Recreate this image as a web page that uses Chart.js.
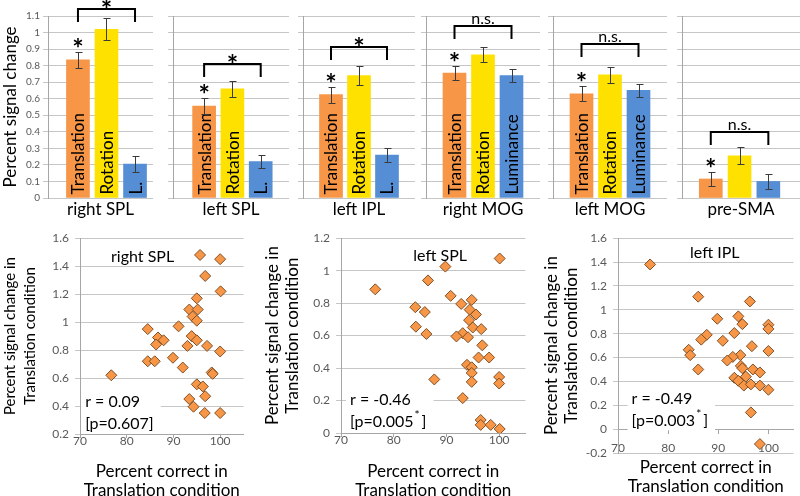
<!DOCTYPE html>
<html>
<head>
<meta charset="utf-8">
<title>Percent signal change by region</title>
<script src="https://cdn.jsdelivr.net/npm/chart.js@4.4.1/dist/chart.umd.min.js"></script>
<style>
  html, body { margin: 0; padding: 0; background: #fff; }
  body { width: 800px; height: 496px; position: relative; overflow: hidden; }
  .panel { position: absolute; }
</style>
</head>
<body>
<script>
// ---- top row: mean percent signal change per region ----
var regions = ['right SPL', 'left SPL', 'left IPL', 'right MOG', 'left MOG', 'pre-SMA'];
var translationMean = [0.835, 0.555, 0.625, 0.755, 0.63, 0.115];
var translationErr  = [0.05, 0.05, 0.048, 0.043, 0.045, 0.045];
var rotationMean    = [1.02, 0.66, 0.74, 0.865, 0.745, 0.255];
var rotationErr     = [0.065, 0.05, 0.055, 0.045, 0.048, 0.052];
var luminanceMean   = [0.205, 0.22, 0.26, 0.74, 0.65, 0.10];
var luminanceErr    = [0.05, 0.04, 0.04, 0.038, 0.04, 0.045];
var barLabels = [
  ['Translation', 'Rotation', 'L.'],
  ['Translation', 'Rotation', 'L.'],
  ['Translation', 'Rotation', 'L.'],
  ['Translation', 'Rotation', 'Luminance'],
  ['Translation', 'Rotation', 'Luminance'],
  ['', '', '']
];
var contrastText  = ['*', '*', '*', 'n.s.', 'n.s.', 'n.s.'];
var contrastLevel = [1.14, 0.81, 0.915, 1.04, 0.93, 0.40];

// ---- bottom row: signal change vs. accuracy, one point per subject ----
var scatterRegions = ['right SPL', 'left SPL', 'left IPL'];
var rightSplAccuracy = [95.7, 100, 96.8, 100.1, 95, 93.4, 95.2, 94.1, 95, 91.1, 84.5, 86.7, 87.9, 86.3, 93.9, 95, 93, 97.2, 100, 89.9, 84.5, 86, 92, 98.2, 98.4, 76.7, 95, 96.3, 96.8, 93.4, 94.3, 96.7, 100];
var rightSplSignal   = [1.48, 1.45, 1.33, 1.22, 1.17, 1.09, 1.09, 1.04, 1.01, 0.97, 0.95, 0.89, 0.87, 0.84, 0.90, 0.87, 0.83, 0.83, 0.79, 0.745, 0.72, 0.72, 0.675, 0.64, 0.63, 0.62, 0.555, 0.54, 0.47, 0.45, 0.395, 0.35, 0.35];
var leftSplAccuracy = [100.1, 89.8, 86.5, 76.5, 90.8, 92.8, 94.8, 84.1, 94.4, 85.9, 95.6, 94.3, 84.2, 95.0, 96.6, 86.2, 93.1, 91.9, 94.1, 96.8, 96.1, 98.1, 93.9, 94.8, 94.8, 87.7, 100, 100, 94.8, 93.1, 96.5, 96.5, 98.4, 100.1];
var leftSplSignal   = [1.075, 1.025, 0.94, 0.885, 0.845, 0.795, 0.82, 0.775, 0.76, 0.745, 0.73, 0.695, 0.655, 0.65, 0.64, 0.61, 0.615, 0.595, 0.59, 0.54, 0.465, 0.465, 0.42, 0.405, 0.37, 0.33, 0.345, 0.305, 0.315, 0.215, 0.08, 0.05, 0.05, 0.025];
var leftIplAccuracy = [76.4, 86.0, 96.3, 89.8, 94.0, 94.8, 100, 100, 87.7, 86.6, 93.2, 90.9, 96.7, 84.1, 84.4, 100, 94.4, 92.9, 91.8, 94.5, 94.8, 86.0, 96.9, 98.3, 95.5, 93.2, 94.0, 95.1, 96.5, 98.3, 100, 96.5, 98.3];
var leftIplSignal   = [1.38, 1.11, 1.07, 0.925, 0.945, 0.88, 0.875, 0.84, 0.79, 0.75, 0.805, 0.74, 0.695, 0.665, 0.62, 0.655, 0.62, 0.605, 0.575, 0.53, 0.51, 0.50, 0.50, 0.475, 0.44, 0.43, 0.405, 0.365, 0.375, 0.365, 0.33, 0.14, -0.125];
var scatterYRange = [[0.2, 1.6], [0, 1.2], [-0.2, 1.6]];
var rValues = ['0.09', '-0.46', '-0.49'];
var pValues = ['0.607', '0.005', '0.003'];
var pSignificant = [false, true, true];

// where the panels sit on the page
var panelAxisX  = [48, 173, 303, 426, 553, 682];
var panelRightX = [153, 289, 415, 540, 667, 800];
var panelXRange = [[-0.05, 3.63], [-0.1, 4], [0, 4], [0, 4], [0, 4], [0, 4.1]];
var scatterLayout = [
  {left: 0,   top: 225, width: 250, height: 275, yAxisW: 80, padRight: 5, titlePad: 6, yTitleSize: 15, xAtZero: false, xTickPad: -4},
  {left: 263, top: 225, width: 269, height: 275, yAxisW: 78, padRight: 5, titlePad: 7, yTitleSize: 17, xAtZero: false, xTickPad: -4},
  {left: 542, top: 225, width: 258, height: 271, yAxisW: 76, padRight: 3, titlePad: 5, yTitleSize: 17, xAtZero: true, xTickPad: 8}
];
var regionNameAt = [[83.4, 1.47], [88.8, 1.09], [89.3, 1.48]];
var statsAt = [[71.1, 0.43], [71.7, 0.205], [72.7, 0.25]];

Chart.defaults.font.family = 'Lato';
Chart.defaults.color = '#000';

function tickText(v) {
  return String(Math.round(v * 10) / 10);
}

function addPanel(left, top, width, height) {
  var div = document.createElement('div');
  div.className = 'panel';
  div.style.left = left + 'px';
  div.style.top = top + 'px';
  div.style.width = width + 'px';
  div.style.height = height + 'px';
  var canvas = document.createElement('canvas');
  div.appendChild(canvas);
  document.body.appendChild(div);
  return canvas;
}

function drawStar(ctx, x, cy, size) {
  ctx.font = 'bold ' + size + 'px Lato';
  ctx.textAlign = 'center';
  ctx.textBaseline = 'alphabetic';
  var m = ctx.measureText('*');
  ctx.fillText('*', x, cy + (m.actualBoundingBoxAscent - m.actualBoundingBoxDescent) / 2);
}

function barMarks(i) {
  return {
    id: 'barMarks',
    afterDatasetsDraw: function(chart) {
      var ctx = chart.ctx, y = chart.scales.y;
      var bars = chart.getDatasetMeta(0).data;
      var means = [translationMean[i], rotationMean[i], luminanceMean[i]];
      var errs = [translationErr[i], rotationErr[i], luminanceErr[i]];
      ctx.save();

      // condition names written up the bars
      ctx.fillStyle = '#000';
      ctx.font = '17px Lato';
      ctx.textAlign = 'left';
      ctx.textBaseline = 'middle';
      bars.forEach(function(bar, k) {
        if (!barLabels[i][k]) return;
        ctx.save();
        ctx.translate(bar.x + 1, bar.base - 3);
        ctx.rotate(-Math.PI / 2);
        ctx.fillText(barLabels[i][k], 0, 0);
        ctx.restore();
      });

      // error bars
      ctx.strokeStyle = '#3a3a3a';
      ctx.lineWidth = 1;
      ctx.beginPath();
      bars.forEach(function(bar, k) {
        var x = Math.round(bar.x) + 0.5;
        var hi = Math.round(y.getPixelForValue(means[k] + errs[k])) + 0.5;
        var lo = Math.round(y.getPixelForValue(means[k] - errs[k])) + 0.5;
        ctx.moveTo(x, hi); ctx.lineTo(x, lo);
        ctx.moveTo(x - 3, hi); ctx.lineTo(x + 4, hi);
        ctx.moveTo(x - 3, lo); ctx.lineTo(x + 4, lo);
      });
      ctx.stroke();

      // translation differs from zero
      ctx.fillStyle = '#000';
      drawStar(ctx, bars[0].x, y.getPixelForValue(means[0] + errs[0]) - 9, 27);

      // translation vs luminance bracket
      var by = Math.round(y.getPixelForValue(contrastLevel[i]));
      var x0 = bars[0].x, x2 = bars[2].x;
      ctx.strokeStyle = '#000';
      ctx.lineWidth = 2;
      ctx.beginPath();
      ctx.moveTo(x0, by + 13); ctx.lineTo(x0, by); ctx.lineTo(x2, by); ctx.lineTo(x2, by + 13);
      ctx.stroke();
      if (contrastText[i] === '*') {
        drawStar(ctx, (x0 + x2) / 2, by - 5, 27);
      } else {
        ctx.font = '16px Lato';
        ctx.textAlign = 'center';
        ctx.textBaseline = 'alphabetic';
        ctx.fillText(contrastText[i], (x0 + x2) / 2, by - 2);
      }
      ctx.restore();
    }
  };
}

function barChart(i) {
  var yw = i === 0 ? 48 : 6;
  var left = panelAxisX[i] - yw;
  var canvas = addPanel(left, 0, panelRightX[i] - left, 222);
  new Chart(canvas, {
    type: 'bar',
    data: {
      datasets: [{
        data: [
          {x: 1, y: translationMean[i]},
          {x: 2, y: rotationMean[i]},
          {x: 3, y: luminanceMean[i]}
        ],
        backgroundColor: ['#F79646', '#FFE100', '#558ED5'],
        barThickness: 23
      }]
    },
    options: {
      responsive: true,
      maintainAspectRatio: false,
      animation: false,
      devicePixelRatio: 1,
      layout: {padding: {top: 16, left: 0, right: 0, bottom: 0}},
      plugins: {legend: {display: false}, tooltip: {enabled: false}},
      scales: {
        x: {
          type: 'linear',
          offset: false,
          min: panelXRange[i][0],
          max: panelXRange[i][1],
          ticks: {display: false, stepSize: 1},
          grid: {display: false, offset: false},
          border: {display: false},
          title: {display: true, text: regions[i], color: '#000', font: {size: 17}, padding: {top: 0, bottom: 2}},
          afterFit: function(s) { s.height = 24; }
        },
        y: {
          min: 0,
          max: 1.1,
          ticks: {display: i === 0, stepSize: 0.1, callback: tickText, color: '#595959', font: {size: 10}, padding: 3},
          grid: {color: '#C6C6C6', tickLength: 5},
          border: {color: '#A6A6A6'},
          title: {display: i === 0, text: 'Percent signal change', color: '#000', font: {size: 17}, padding: 0},
          afterFit: function(s) { s.width = yw; }
        }
      }
    },
    plugins: [barMarks(i)]
  });
}

function scatterNotes(k) {
  return {
    id: 'scatterNotes',
    beforeDatasetsDraw: function(chart) {
      var ctx = chart.ctx, sx = chart.scales.x, sy = chart.scales.y;
      ctx.save();
      ctx.font = '16px Lato';
      ctx.textBaseline = 'middle';
      ctx.textAlign = 'center';
      ctx.fillStyle = '#000';
      ctx.fillText(scatterRegions[k], sx.getPixelForValue(regionNameAt[k][0]), sy.getPixelForValue(regionNameAt[k][1]));

      var x = sx.getPixelForValue(statsAt[k][0]);
      var y1 = sy.getPixelForValue(statsAt[k][1]);
      var y2 = y1 + 22;
      var rLine = 'r = ' + rValues[k];
      var pLine = '[p=' + pValues[k];
      ctx.textAlign = 'left';
      var pw = ctx.measureText(pLine).width;
      var w = Math.max(ctx.measureText(rLine).width, pw + (pSignificant[k] ? 14 : 6));
      ctx.fillStyle = '#fff';
      ctx.fillRect(x - 4, y1 - 11, w + 10, y2 - y1 + 20);
      ctx.fillStyle = '#000';
      ctx.fillText(rLine, x, y1);
      ctx.fillText(pLine, x, y2);
      if (pSignificant[k]) {
        ctx.fillText(']', x + pw + 8, y2);
        ctx.font = '12px Lato';
        ctx.fillText('*', x + pw + 1, y2 - 7);
      } else {
        ctx.fillText(']', x + pw, y2);
      }
      ctx.restore();
    }
  };
}

function scatterChart(k, accuracy, signal) {
  var g = scatterLayout[k];
  var canvas = addPanel(g.left, g.top, g.width, g.height);
  var points = accuracy.map(function(a, j) { return {x: a, y: signal[j]}; });
  new Chart(canvas, {
    type: 'scatter',
    data: {
      datasets: [{
        data: points,
        pointStyle: 'rectRot',
        radius: 5.5,
        backgroundColor: '#F79646',
        borderColor: '#7E5028',
        borderWidth: 1
      }]
    },
    options: {
      responsive: true,
      maintainAspectRatio: false,
      animation: false,
      devicePixelRatio: 1,
      layout: {padding: {top: 13, right: g.padRight, bottom: 0, left: 0}},
      plugins: {
        legend: {display: false},
        tooltip: {enabled: false},
        title: {
          display: true,
          position: 'bottom',
          fullSize: false,
          text: ['Percent correct in', 'Translation condition'],
          color: '#000',
          font: {size: 17, weight: 'normal', lineHeight: 19 / 17},
          padding: {top: g.titlePad, bottom: 0}
        }
      },
      scales: {
        x: {
          type: 'linear',
          position: g.xAtZero ? {y: 0} : 'bottom',
          min: 70,
          max: 105,
          ticks: {stepSize: 10, includeBounds: false, autoSkip: false, color: '#595959', font: {size: 12}, padding: g.xTickPad},
          grid: {drawOnChartArea: false, tickLength: 4, color: '#A6A6A6'},
          border: {color: '#A6A6A6'},
          afterFit: function(s) { if (!g.xAtZero) s.height = 22; }
        },
        y: {
          min: scatterYRange[k][0],
          max: scatterYRange[k][1],
          ticks: {stepSize: 0.2, callback: tickText, color: '#595959', font: {size: 12}, padding: 6},
          grid: {color: '#C6C6C6', tickLength: 5},
          border: {color: '#A6A6A6'},
          title: {
            display: true,
            text: ['Percent signal change in', 'Translation condition'],
            color: '#000',
            font: {size: g.yTitleSize, lineHeight: 20 / g.yTitleSize},
            padding: 0
          },
          afterFit: function(s) { s.width = g.yAxisW; }
        }
      }
    },
    plugins: [scatterNotes(k)]
  });
}

for (var i = 0; i < regions.length; i++) barChart(i);
scatterChart(0, rightSplAccuracy, rightSplSignal);
scatterChart(1, leftSplAccuracy, leftSplSignal);
scatterChart(2, leftIplAccuracy, leftIplSignal);
</script>
</body>
</html>
